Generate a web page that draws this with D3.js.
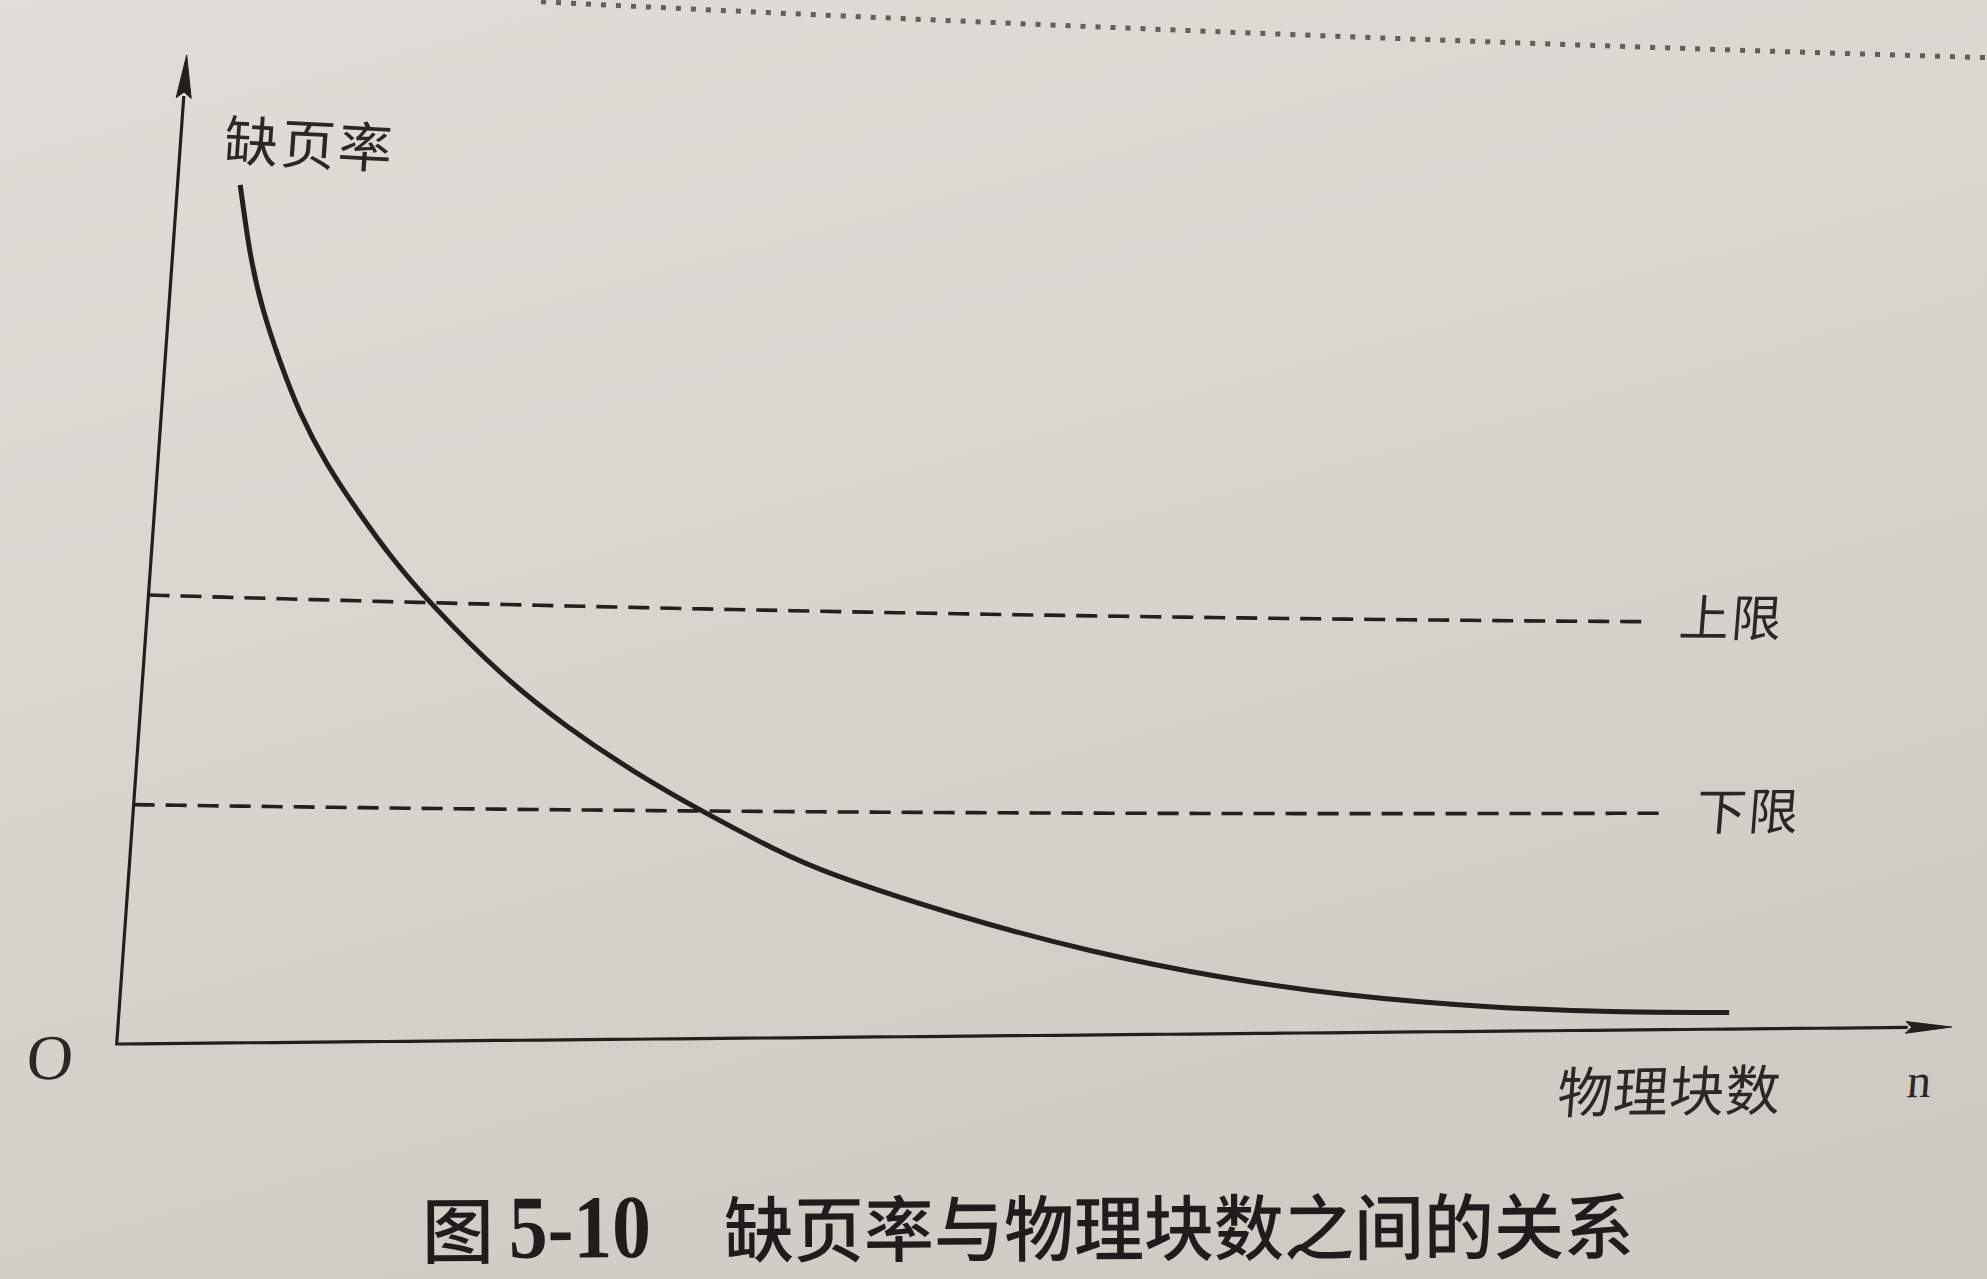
<!DOCTYPE html>
<html>
<head>
<meta charset="utf-8">
<script src="https://cdn.jsdelivr.net/npm/d3@7"></script>
<style>
  html, body { margin: 0; padding: 0; width: 1987px; height: 1279px; overflow: hidden; }
  body { background: linear-gradient(165deg, #e0ddd8 0%, #dad6d0 35%, #d3cec8 70%, #cdc8c2 100%); }
  svg { display: block; position: absolute; left: 0; top: 0; }
</style>
</head>
<body>
<svg id="chart" width="1987" height="1279"></svg>
<script>
// ---------------- data ----------------
const physicalBlocks = [3.4, 4.25, 5.1, 6.2, 7.5, 9.1, 11.1, 13.15, 15.3, 19.4, 23.3, 27.05, 31.0, 35.2, 37.8, 45.3, 52.75, 60.2, 66.7, 74.5, 82.3, 87.8];
const pageFaultRate  = [87.2, 79.6, 74.6, 69.6, 64.3, 59.35, 54.4, 49.7, 45.4, 38.2, 32.8, 28.3, 24.1, 20.0, 17.7, 12.9, 8.95, 5.94, 4.05, 2.59, 1.91, 1.85];
const limitNames  = ["上限", "下限"];
const limitValues = [45.4, 24.2];
const limitExtent = [81.6, 83.2];
const xDomain = [0, 100];
const yDomain = [0, 100];
const yTitle = "缺页率";
const xTitle = "物理块数";
const xSymbol = "n";
const originLabel = "O";
const captionParts = ["图", "5-10", "缺页率与物理块数之间的关系"];
const pageRuleLevels = [107.5, 108.8];   // dotted rule of the page above the figure
const pageRuleSpan = [19, 101];

// ---------------- scales (flat figure space) ----------------
const x = d3.scaleLinear().domain(xDomain).range([117, 1952]);
const y = d3.scaleLinear().domain(yDomain).range([1044, 55]);

// photo perspective: flat figure -> photographed page
const C00 = [116.7, 1044], C10 = [1951.7, 1027], C01 = [186.7, 55], C11 = [2024, 137];
const K = [C11[0] - C10[0] - C01[0] + C00[0], C11[1] - C10[1] - C01[1] + C00[1]];
function smoothstep(v) { const u = Math.max(0, Math.min(1, v)); return u * u * (3 - 2 * u); }
function project(fx, fy) {
  const s = (fx - 117) / 1835, t = (1044 - fy) / 989;
  const X = C00[0] + s * (C10[0] - C00[0]) + t * (C01[0] - C00[0]) + s * t * K[0];
  let Y = C00[1] + s * (C10[1] - C00[1]) + t * (C01[1] - C00[1]) + s * t * K[1];
  const sc = Math.max(0, Math.min(1, s));
  Y += 26 * sc * (1 - sc) * smoothstep(t / 0.36);
  return [X, Y];
}
function seg(x0, y0, x1, y1, n = 80) {
  const pts = [];
  for (let i = 0; i <= n; i++) {
    const f = i / n;
    pts.push(project(x0 + (x1 - x0) * f, y0 + (y1 - y0) * f));
  }
  return pts;
}
function orient(px, py, o) {
  const p = project(px, py), pr = project(px + 1, py), pd = project(px, py + 1);
  let ux = pr[0] - p[0], uy = pr[1] - p[1];
  const ul = Math.hypot(ux, uy); ux /= ul; uy /= ul;
  let vx = pd[0] - p[0], vy = pd[1] - p[1];
  const vl = Math.hypot(vx, vy); vx /= vl; vy /= vl;
  if (o.slope !== undefined) { const a = Math.atan(o.slope); ux = Math.cos(a); uy = Math.sin(a); }
  if (o.upright) { vx = -uy; vy = ux; }
  return [ux, uy, vx, vy];
}

const svg = d3.select("#chart");
const ink = "#221f1d";
const textInk = "#2a2725";
const lineGen = d3.line();

// page rule (dotted) at top of photo
svg.append("path")
  .attr("d", lineGen(seg(x(pageRuleSpan[0]), y(pageRuleLevels[0]), x(pageRuleSpan[1]), y(pageRuleLevels[1]))))
  .attr("fill", "none").attr("stroke", "#4d4845").attr("stroke-width", 5)
  .attr("stroke-dasharray", "5 10").attr("opacity", 0.85);

// axes (y axis down to origin, then along x)
const arrowLenY = 43, arrowHalfY = 7.5, arrowLenX = 46, arrowHalfX = 6.5;
const axisPts = [].concat(
  seg(x(0), y(yDomain[1]) + arrowLenY - 2, x(0), y(0), 40),
  seg(x(0), y(0), x(xDomain[1]) - arrowLenX + 2, y(0), 80).slice(1)
);
svg.append("path")
  .attr("d", lineGen(axisPts))
  .attr("fill", "none").attr("stroke", ink).attr("stroke-width", 3.2)
  .attr("stroke-linejoin", "miter");

const arrowY = [
  project(x(0), y(yDomain[1])),
  project(x(0) + arrowHalfY, y(yDomain[1]) + arrowLenY),
  project(x(0), y(yDomain[1]) + arrowLenY - 6),
  project(x(0) - arrowHalfY, y(yDomain[1]) + arrowLenY)
];
const arrowX = [
  project(x(xDomain[1]), y(0)),
  project(x(xDomain[1]) - arrowLenX, y(0) - arrowHalfX),
  project(x(xDomain[1]) - arrowLenX + 6, y(0)),
  project(x(xDomain[1]) - arrowLenX, y(0) + arrowHalfX)
];
[arrowY, arrowX].forEach(a => {
  svg.append("path").attr("d", "M" + a.map(p => p.join(",")).join("L") + "Z")
    .attr("fill", ink).attr("stroke", ink).attr("stroke-width", 1);
});

// limit lines (dashed)
limitValues.forEach((v, i) => {
  svg.append("path")
    .attr("d", lineGen(seg(x(0), y(v), x(limitExtent[i]), y(v), 100)))
    .attr("fill", "none").attr("stroke", ink).attr("stroke-width", 3.6)
    .attr("stroke-dasharray", "21 11");
});

// the curve
const curvePts = physicalBlocks.map((n, i) => project(x(n), y(pageFaultRate[i])));
svg.append("path")
  .attr("d", d3.line().curve(d3.curveBasis)(curvePts))
  .attr("fill", "none").attr("stroke", ink).attr("stroke-width", 5)
  .attr("stroke-linecap", "butt");

// texts
function label(px, py, str, o) {
  const m = orient(px, py, o);
  const t = svg.append("text")
    .attr("transform", `matrix(${m[0]},${m[1]},${m[2]},${m[3]},${px},${py})`)
    .attr("x", 0).attr("y", 0)
    .attr("font-family", o.family)
    .attr("font-size", o.size)
    .attr("font-weight", o.weight || 400)
    .attr("text-anchor", o.anchor || "start")
    .attr("fill", o.fill || textInk)
    .text(str);
  if (o.spacing) t.attr("letter-spacing", o.spacing);
  if (o.len) t.attr("textLength", o.len).attr("lengthAdjust", "spacingAndGlyphs");
  return t;
}
const cjk = "'Noto Sans CJK SC', 'Noto Sans CJK JP', sans-serif";
const serif = "'Liberation Serif', 'DejaVu Serif', serif";

label(223, 160, yTitle, { family: cjk, size: 54, weight: 400, spacing: 3 });
label(48.5, 1079, originLabel, { family: serif, size: 64, anchor: "middle" });
label(1556, 1113, xTitle, { family: cjk, size: 55, weight: 400, spacing: 1 });
label(1918, 1097, xSymbol, { family: serif, size: 48, anchor: "middle" });
label(1678, 636, limitNames[0], { family: cjk, size: 50, weight: 400, spacing: 2 });
label(1695, 830, limitNames[1], { family: cjk, size: 50, weight: 400, spacing: 2 });

// caption
const capSlope = -0.004;
const capBase = xx => 1258 + capSlope * (xx - 424);
const capInk = "#1f1c1b";
label(422, capBase(422), captionParts[0], { family: cjk, size: 72, weight: 500, slope: capSlope, upright: true, fill: capInk });
label(509, capBase(509), captionParts[1], { family: serif, size: 90, weight: 700, slope: capSlope, upright: true, len: 142, fill: capInk });
label(724, capBase(724), captionParts[2], { family: cjk, size: 72, weight: 500, slope: capSlope, upright: true, len: 910, fill: capInk });
</script>
</body>
</html>
